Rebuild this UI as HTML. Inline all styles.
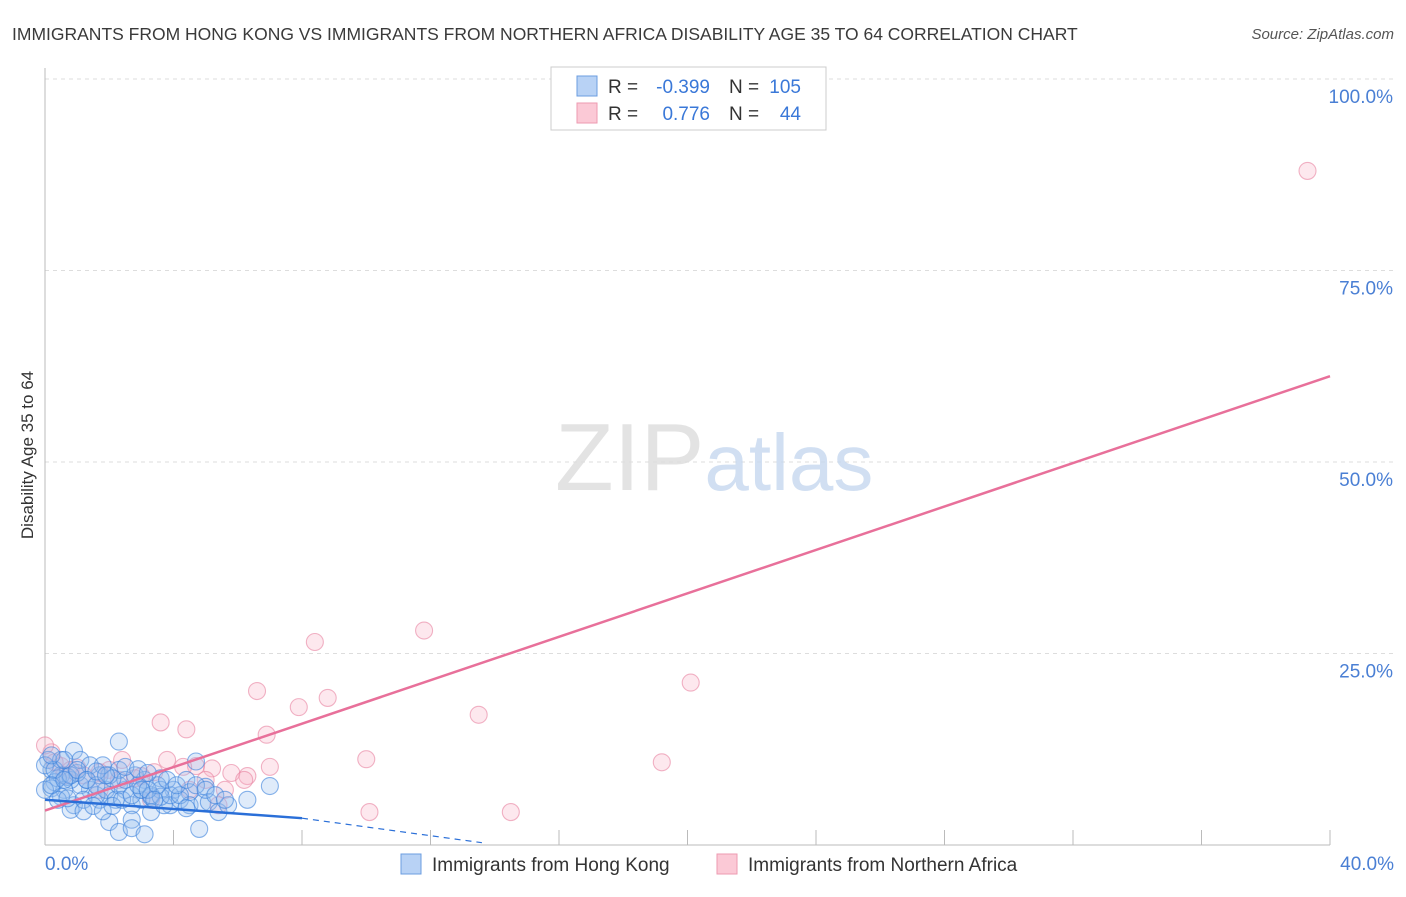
<!DOCTYPE html>
<html><head><meta charset="utf-8"><style>
body{margin:0;background:#fff;font-family:"Liberation Sans",sans-serif;}
svg text{font-family:"Liberation Sans",sans-serif;}
</style></head><body>
<svg id="chart" width="1406" height="892" xmlns="http://www.w3.org/2000/svg">
<text x="12" y="40" font-size="17.5" fill="#3a3a3a">IMMIGRANTS FROM HONG KONG VS IMMIGRANTS FROM NORTHERN AFRICA DISABILITY AGE 35 TO 64 CORRELATION CHART</text>
<text x="1394" y="39" font-size="15" fill="#555" text-anchor="end" font-style="italic">Source: ZipAtlas.com</text>
<text transform="translate(33,455) rotate(-90)" font-size="17" fill="#333" text-anchor="middle">Disability Age 35 to 64</text>
<g id="grid"></g>
<text x="555" y="490" font-size="96" fill="#ddd" font-family="Liberation Serif" opacity="0.8">ZIP<tspan fill="#c6d8ef" font-family="Liberation Sans" font-size="80">atlas</tspan></text>
<g id="points"></g>
<g id="lines"></g>
<g>
<rect x="551" y="67" width="275" height="63" fill="#fff" stroke="#ccc"/>
<rect x="577" y="76" width="20" height="20" fill="#b8d2f5" stroke="#6b9de0"/>
<rect x="577" y="103" width="20" height="20" fill="#fbc9d6" stroke="#ee9ab0"/>
<text x="608" y="93" font-size="19" fill="#333">R =</text>
<text x="710" y="93" font-size="19" fill="#3a78d8" text-anchor="end">-0.399</text>
<text x="729" y="93" font-size="19" fill="#333">N =</text>
<text x="801" y="93" font-size="19" fill="#3a78d8" text-anchor="end">105</text>
<text x="608" y="120" font-size="19" fill="#333">R =</text>
<text x="710" y="120" font-size="19" fill="#3a78d8" text-anchor="end">0.776</text>
<text x="729" y="120" font-size="19" fill="#333">N =</text>
<text x="801" y="120" font-size="19" fill="#3a78d8" text-anchor="end">44</text>
</g>
<g>
<rect x="401" y="854" width="20" height="20" fill="#b8d2f5" stroke="#6b9de0"/>
<text x="432" y="871" font-size="19" fill="#333">Immigrants from Hong Kong</text>
<rect x="717" y="854" width="20" height="20" fill="#fbc9d6" stroke="#ee9ab0"/>
<text x="748" y="871" font-size="19" fill="#333">Immigrants from Northern Africa</text>
</g>
</svg>
<script>
const yTicks=[100,75,50,25];
const yTickLabels=["100.0%","75.0%","50.0%","25.0%"];
const xTickLabels=["0.0%","40.0%"];
const pinkX=[39.3,11.8,8.4,6.6,8.8,7.9,13.5,20.1,3.6,4.4,6.9,10.0,19.2,2.4,3.8,14.5,10.1,5.4,6.3,7.0,5.8,5.2,4.7,4.3,3.4,3.0,2.0,1.7,1.0,0.5,0.2,0.3,0.8,1.2,2.3,2.8,5.0,6.2,3.3,5.6,4.5,1.7,0.6,0.0];
const pinkY=[88,28,26.5,20.1,19.2,18,17,21.2,16,15.1,14.4,11.2,10.8,11.1,11.1,4.3,4.3,5.2,9,10.2,9.4,10,10.3,10.2,9.5,9,9.8,9.5,10.1,10.3,12.1,10.8,9.8,9.1,8.5,8.7,8.5,8.5,5.9,7.2,7.2,7.2,9.1,13];
const blueX=[2.3,0.9,4.7,7.0,6.3,5.0,4.5,4.0,3.6,3.1,2.8,2.5,2.0,1.7,1.4,1.1,0.8,0.5,0.2,0.1,0.3,0.6,0.9,1.2,1.6,1.9,2.2,2.7,3.0,3.3,3.6,3.9,4.2,4.5,4.9,5.1,5.4,5.7,3.3,2.7,2.0,2.3,2.7,3.1,4.8,3.7,3.0,2.3,1.7,1.3,1.0,0.7,0.4,0.2,0.5,0.8,1.2,1.5,1.8,2.1,2.4,2.7,3.0,3.3,3.6,3.9,4.2,0.8,1.1,1.4,0.5,0.0,0.3,0.6,1.0,1.3,1.6,2.0,2.3,2.5,2.9,3.2,3.5,3.8,4.1,4.4,4.7,5.0,5.3,5.6,1.8,2.1,0.2,0.0,0.4,0.7,3.4,4.4,2.5,2.9,3.2,1.6,0.2,0.6,1.9];
const blueY=[13.5,12.3,10.9,7.7,5.9,7.6,6.9,7.2,8.7,8.5,9.1,7.2,6.5,5.9,7.2,7.8,8.5,9.1,9.8,11.1,8.2,7.2,5.2,5.9,6.5,7.2,5.9,5.2,5.9,6.3,7.2,5.2,5.9,5.2,5.5,5.6,4.3,5.2,4.3,3.3,3.0,1.7,2.2,1.4,2.1,5.2,7.2,7.8,9.1,8.5,9.4,8.9,8.7,7.4,6.3,4.6,4.4,5.1,4.4,5.1,5.9,6.5,7.2,6.5,6.3,6.5,6.5,9.1,11.1,10.4,11.1,10.4,9.8,11.1,9.8,8.5,7.8,9.1,9.8,8.5,7.8,7.2,7.8,8.5,7.8,8.5,7.8,7.2,6.5,5.9,10.4,8.7,11.7,7.2,5.9,6.1,5.9,4.8,10.2,9.9,9.4,9.6,7.8,8.5,9.1];
const pinkLine=[[0,4.5],[40,61.2]];
const blueLine=[[0,5.9],[8,3.5]];
const blueDash=[[8,3.5],[13.6,0.3]];
const xs=v=>45+v/40*1285, ys=v=>845-v/100*766;
const NS="http://www.w3.org/2000/svg";
const grid=document.getElementById('grid');
function mk(tag,attrs,parent){const e=document.createElementNS(NS,tag);for(const k in attrs)e.setAttribute(k,attrs[k]);parent.appendChild(e);return e;}
yTicks.forEach((t,i)=>{
 const l=mk('line',{x1:45,x2:1394,y1:ys(t),y2:ys(t),stroke:'#ddd','stroke-dasharray':'4,4'},grid);
 
 
 const tx=mk('text',{x:1393,y:ys(t)+24,'font-size':19,fill:'#4a7fd4','text-anchor':'end'},grid);
 tx.textContent=yTickLabels[i];
 
 
});
const ax=mk('line',{x1:45,x2:45,y1:68,y2:845,stroke:'#bbb'},grid);


const bx=mk('line',{x1:45,x2:1330,y1:845,y2:845,stroke:'#bbb'},grid);


for(let i=1;i<=10;i++){const x=xs(i*4);const t=mk('line',{x1:x,x2:x,y1:830,y2:845,stroke:'#bbb'},grid);
 
 }
[[0,'start',45],[40,'end',1394]].forEach((a,i)=>{const t=mk('text',{x:a[2],y:870,'font-size':19,fill:'#4a7fd4','text-anchor':a[1]},grid);t.textContent=xTickLabels[i];
 
 });
const pts=document.getElementById('points');
pinkX.forEach((x,i)=>{const c=mk('circle',{cx:xs(x),cy:ys(pinkY[i]),r:8.5,fill:'rgba(248,180,200,0.3)',stroke:'rgba(232,130,160,0.6)','stroke-width':1.1},pts);
 
 });
blueX.forEach((x,i)=>{const c=mk('circle',{cx:xs(x),cy:ys(blueY[i]),r:8.5,fill:'rgba(150,190,240,0.3)',stroke:'rgba(60,130,220,0.6)','stroke-width':1.1},pts);
 
 });
const lg=document.getElementById('lines');
function ln(p,st,name,dash){const l=mk('line',{x1:xs(p[0][0]),y1:ys(p[0][1]),x2:xs(p[1][0]),y2:ys(p[1][1]),stroke:st,'stroke-width':dash?1.2:2.5},lg);if(dash)l.setAttribute('stroke-dasharray','6,5');
 
 }
ln(pinkLine,'#e8709a','northern-africa-trendline');
ln(blueLine,'#2a6fd8','hong-kong-trendline');
ln(blueDash,'#2a6fd8','hong-kong-trendline-extension',true);
</script>
</body></html>
